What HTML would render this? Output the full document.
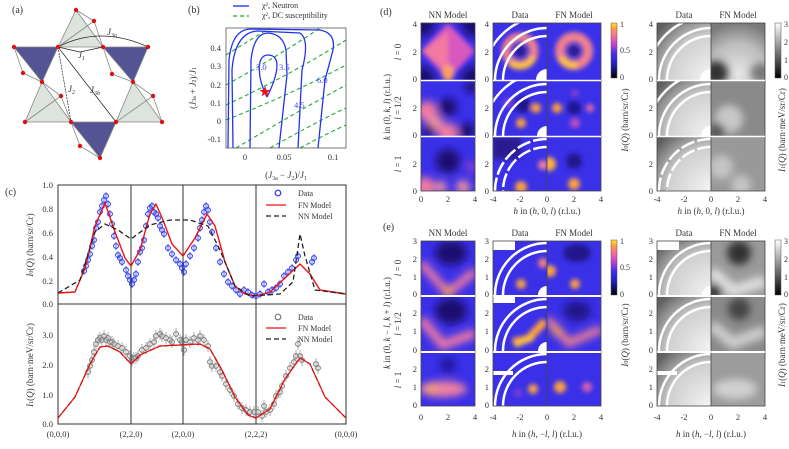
<!DOCTYPE html>
<html><head><meta charset="utf-8"><style>
body{margin:0;background:#fff;}
svg text{font-family:"Liberation Serif",serif;fill:#333;}
</style></head><body>
<svg id="s" width="789" height="444" viewBox="0 0 789 444" xmlns="http://www.w3.org/2000/svg">
<defs>
<filter id="b" x="-50%" y="-50%" width="200%" height="200%"><feGaussianBlur stdDeviation="4"/></filter>
<filter id="b2" x="-50%" y="-50%" width="200%" height="200%"><feGaussianBlur stdDeviation="2.5"/></filter>
<linearGradient id="cb" x1="0" y1="1" x2="0" y2="0">
<stop offset="0" stop-color="#000"/><stop offset="0.25" stop-color="#2020c0"/><stop offset="0.45" stop-color="#4a30f0"/><stop offset="0.6" stop-color="#c040d0"/><stop offset="0.75" stop-color="#f26aa0"/><stop offset="0.9" stop-color="#fca040"/><stop offset="1" stop-color="#ffe030"/></linearGradient>
<linearGradient id="cg" x1="0" y1="1" x2="0" y2="0"><stop offset="0" stop-color="#000"/><stop offset="1" stop-color="#fff"/></linearGradient>
<radialGradient id="gd" cx="1" cy="1" r="1.3"><stop offset="0" stop-color="#f4f4f4"/><stop offset="0.6" stop-color="#d0d0d0"/><stop offset="1" stop-color="#606060"/></radialGradient>
<radialGradient id="gf" cx="0.5" cy="0.9" r="0.9"><stop offset="0" stop-color="#e6e6e6"/><stop offset="0.6" stop-color="#bdbdbd"/><stop offset="1" stop-color="#7a7a7a"/></radialGradient>
</defs>

<!-- (a) -->
<text x="12" y="13" font-size="10">(a)</text>
<g stroke="#888" stroke-width="0.8">
<polygon points="14,47 58,47 42,82" fill="#545494"/>
<polygon points="103,47 148,47 133,82" fill="#545494"/>
<polygon points="71,122 116,122 100,158" fill="#545494"/>
<polygon points="76,10 58,47 103,47" fill="#dde3dd"/>
<polygon points="42,82 25,122 71,122" fill="#dde3dd"/>
<polygon points="133,82 116,122 162,122" fill="#dde3dd"/>
<line x1="76" y1="10" x2="94" y2="21"/><line x1="94" y1="21" x2="103" y2="47"/><line x1="58" y1="47" x2="94" y2="21"/>
<line x1="14" y1="47" x2="23" y2="73"/><line x1="23" y1="73" x2="42" y2="82"/>
<line x1="103" y1="47" x2="112" y2="74"/><line x1="112" y1="74" x2="133" y2="82"/>
<line x1="42" y1="82" x2="61" y2="96"/><line x1="61" y1="96" x2="71" y2="122"/><line x1="25" y1="122" x2="61" y2="96"/>
<line x1="133" y1="82" x2="153" y2="96"/><line x1="153" y1="96" x2="162" y2="122"/><line x1="116" y1="122" x2="153" y2="96"/>
<line x1="71" y1="122" x2="80" y2="146"/><line x1="80" y1="146" x2="100" y2="158"/>
</g>
<g stroke="#222" stroke-width="0.7" fill="none">
<path d="M58,47 Q100,25 148,47"/><line x1="58" y1="47" x2="80" y2="52"/><line x1="80" y1="52" x2="103" y2="47"/>
<line x1="58" y1="47" x2="71" y2="122" stroke-dasharray="2,1"/><line x1="58" y1="47" x2="116" y2="122"/>
</g>
<g fill="#dd1111"><circle cx="14" cy="47" r="2.2"/><circle cx="58" cy="47" r="2.2"/><circle cx="103" cy="47" r="2.2"/><circle cx="148" cy="47" r="2.2"/><circle cx="76" cy="10" r="2.2"/><circle cx="94" cy="21" r="2.2"/><circle cx="23" cy="73" r="2.2"/><circle cx="42" cy="82" r="2.2"/><circle cx="112" cy="74" r="2.2"/><circle cx="133" cy="82" r="2.2"/><circle cx="61" cy="96" r="2.2"/><circle cx="153" cy="96" r="2.2"/><circle cx="25" cy="122" r="2.2"/><circle cx="71" cy="122" r="2.2"/><circle cx="116" cy="122" r="2.2"/><circle cx="162" cy="122" r="2.2"/><circle cx="80" cy="146" r="2.2"/><circle cx="100" cy="158" r="2.2"/></g>
<g font-size="9" font-style="italic"><text x="107" y="35">J<tspan font-size="6" dy="2">3a</tspan></text><text x="78" y="58">J<tspan font-size="6" dy="2">1</tspan></text><text x="68" y="92">J<tspan font-size="6" dy="2">2</tspan></text><text x="90" y="93">J<tspan font-size="6" dy="2">3b</tspan></text></g>

<!-- (b) -->
<text x="188" y="13" font-size="10">(b)</text>
<line x1="233" y1="6" x2="249" y2="6" stroke="#2222ee" stroke-width="1.3"/><text x="262" y="8" font-size="8">χ², Neutron</text>
<line x1="233" y1="16" x2="249" y2="16" stroke="#22aa22" stroke-width="1.3" stroke-dasharray="4,3"/><text x="262" y="18" font-size="8">χ², DC susceptibility</text>
<svg x="226" y="28" width="120" height="120" viewBox="226 28 120 120">
<g stroke="#22aa33" stroke-width="1.1" fill="none" stroke-dasharray="4,3">
<path d="M226,55 Q250,40 270,28"/><path d="M226,85 Q280,55 320,28"/><path d="M226,105 Q290,75 346,40"/><path d="M226,120 Q290,95 346,65"/><path d="M236,148 Q300,110 346,85"/><path d="M270,148 Q320,120 346,108"/><path d="M300,148 Q330,132 346,125"/>
</g>
<g stroke="#2233ee" stroke-width="1.3" fill="none">
<path d="M267,97 C258,80 255,55 268,55 C282,55 278,75 267,97"/>
<path d="M250,148 L251,60 Q254,33 268,33 Q283,34 286,50 L287,75 L279,148"/>
<path d="M233,148 L232,70 Q235,32 258,31 L300,33 Q310,40 302,70 L298,148"/>
<path d="M228,148 L229,60 Q232,30 250,29 L320,30 Q336,33 333,50 L325,80 L318,148"/>
</g>
<text x="256" y="70" font-size="8.5" style="fill:#4444ee">3.0</text>
<text x="279" y="70" font-size="8.5" style="fill:#4444ee">3.5</text>
<text x="294" y="108" font-size="8.5" style="fill:#4444ee">4.5</text>
<text x="317" y="83" font-size="8.5" style="fill:#4444ee">6.0</text>
<polygon points="265,86 266.5,90 270.5,90 267.3,92.5 268.5,96.5 265,94 261.5,96.5 262.7,92.5 259.5,90 263.5,90" fill="#ee1111"/>
</svg>
<rect x="226" y="28" width="120" height="120" fill="none" stroke="#555" stroke-width="0.8"/>
<g font-size="8.5" text-anchor="end"><text x="221" y="51">0.4</text><text x="221" y="69">0.3</text><text x="221" y="88">0.2</text><text x="221" y="106">0.1</text><text x="221" y="124">0</text><text x="221" y="142">-0.1</text></g>
<g font-size="8.5" text-anchor="middle"><text x="245" y="160">0</text><text x="284" y="160">0.05</text><text x="333" y="160">0.1</text></g>
<text x="286" y="178" font-size="9" text-anchor="middle">(<tspan font-style="italic">J</tspan><tspan font-size="6" dy="2">3a</tspan><tspan dy="-2"> − </tspan><tspan font-style="italic">J</tspan><tspan font-size="6" dy="2">2</tspan><tspan dy="-2">)/</tspan><tspan font-style="italic">J</tspan><tspan font-size="6" dy="2">1</tspan></text>
<text transform="translate(196,88) rotate(-90)" font-size="9" text-anchor="middle">(<tspan font-style="italic">J</tspan><tspan font-size="6">3a</tspan> + <tspan font-style="italic">J</tspan><tspan font-size="6">2</tspan>)/<tspan font-style="italic">J</tspan><tspan font-size="6">1</tspan></text>

<!-- (c) -->
<text x="5" y="195" font-size="10">(c)</text>
<g stroke="#333" stroke-width="1"><rect x="58" y="185" width="288" height="239" fill="none"/><line x1="58" y1="304" x2="346" y2="304"/><line x1="131" y1="185" x2="131" y2="424"/><line x1="183" y1="185" x2="183" y2="424"/><line x1="256" y1="185" x2="256" y2="424"/></g>
<g font-size="8.5" text-anchor="end"><text x="53" y="188">1.0</text><text x="53" y="212">0.8</text><text x="53" y="236">0.6</text><text x="53" y="260">0.4</text><text x="53" y="284">0.2</text><text x="53" y="307">0.0</text>
<text x="53" y="338">3.0</text><text x="53" y="368">2.0</text><text x="53" y="398">1.0</text><text x="53" y="427">0.0</text></g>
<g font-size="8.5" text-anchor="middle"><text x="58" y="437">(0,0,0)</text><text x="131" y="437">(2,2,0)</text><text x="183" y="437">(2,0,0)</text><text x="256" y="437">(2,2,2)</text><text x="346" y="437">(0,0,0)</text></g>
<text transform="translate(33,245) rotate(-90)" font-size="9" text-anchor="middle"><tspan font-style="italic">I</tspan><tspan font-size="6">0</tspan>(<tspan font-style="italic">Q</tspan>) (barn/sr/Cr)</text>
<text transform="translate(33,365) rotate(-90)" font-size="9" text-anchor="middle"><tspan font-style="italic">I</tspan><tspan font-size="6">1</tspan>(<tspan font-style="italic">Q</tspan>) (barn·meV/sr/Cr)</text>
<g id="pts"></g>
<path d="M58,293 L75,292 L85,268 L95,226 L105,203 L115,232 L125,258 L131,266 L140,250 L150,214 L156,204 L163,220 L172,244 L183,256 L195,238 L207,214 L215,226 L225,262 L235,286 L245,294 L256,296 L270,292 L285,278 L300,264 L310,274 L320,290 L346,294" fill="none" stroke="#e11" stroke-width="1.4" stroke-linejoin="round"/>
<path d="M58,293 L80,280 L95,232 L105,224 L118,230 L131,239 L150,225 L170,220 L190,220 L208,226 L220,250 L235,286 L250,296 L280,294 L293,282 L300,234 L305,256 L315,290 L346,294" fill="none" stroke="#222" stroke-width="1.3" stroke-dasharray="5,3"/>
<path d="M58,418 L75,397 L90,364 L100,347 L108,346 L120,352 L131,364 L140,355 L160,346 L200,344 L210,349 L222,370 L235,397 L248,415 L256,418 L270,409 L285,379 L300,358 L310,364 L325,397 L346,418" fill="none" stroke="#222" stroke-width="1.3" stroke-dasharray="5,3"/>
<path d="M58,418 L75,397 L90,364 L100,347 L108,346 L120,352 L131,364 L140,355 L160,346 L200,344 L210,349 L222,370 L235,397 L248,415 L256,418 L270,409 L285,379 L300,358 L310,364 L325,397 L346,418" fill="none" stroke="#e11" stroke-width="1.2"/>
<g font-size="8"><circle cx="278" cy="193" r="2.8" fill="none" stroke="#2233ee" stroke-width="1.2"/><text x="298" y="196">Data</text>
<line x1="266" y1="205" x2="286" y2="205" stroke="#e11" stroke-width="1.3"/><text x="298" y="208">FN Model</text>
<line x1="266" y1="216" x2="286" y2="216" stroke="#222" stroke-width="1.3" stroke-dasharray="5,3"/><text x="298" y="219">NN Model</text>
<circle cx="278" cy="317" r="2.8" fill="none" stroke="#777" stroke-width="1.2"/><text x="298" y="320">Data</text>
<line x1="266" y1="328" x2="286" y2="328" stroke="#e11" stroke-width="1.3"/><text x="298" y="331">FN Model</text>
<line x1="266" y1="339" x2="286" y2="339" stroke="#222" stroke-width="1.3" stroke-dasharray="5,3"/><text x="298" y="342">NN Model</text></g>

<!-- (d) and (e) labels -->
<text x="380" y="15" font-size="10">(d)</text>
<text x="383" y="230" font-size="10">(e)</text>
<g font-size="9" text-anchor="middle">
<text x="448" y="18">NN Model</text><text x="520" y="18">Data</text><text x="574" y="18">FN Model</text><text x="684" y="18">Data</text><text x="738" y="18">FN Model</text>
<text x="448" y="236">NN Model</text><text x="520" y="236">Data</text><text x="574" y="236">FN Model</text><text x="684" y="236">Data</text><text x="738" y="236">FN Model</text>
<text x="547" y="214"><tspan font-style="italic">h</tspan> in (<tspan font-style="italic">h</tspan>, 0, <tspan font-style="italic">l</tspan>) (r.l.u.)</text>
<text x="711" y="214"><tspan font-style="italic">h</tspan> in (<tspan font-style="italic">h</tspan>, 0, <tspan font-style="italic">l</tspan>) (r.l.u.)</text>
<text x="547" y="437"><tspan font-style="italic">h</tspan> in (<tspan font-style="italic">h</tspan>, −<tspan font-style="italic">l</tspan>, <tspan font-style="italic">l</tspan>) (r.l.u.)</text>
<text x="711" y="437"><tspan font-style="italic">h</tspan> in (<tspan font-style="italic">h</tspan>, −<tspan font-style="italic">l</tspan>, <tspan font-style="italic">l</tspan>) (r.l.u.)</text>
</g>
<g font-size="9" text-anchor="middle">
<text transform="translate(390,107) rotate(-90)"><tspan font-style="italic">k</tspan> in (0, <tspan font-style="italic">k</tspan>, <tspan font-style="italic">l</tspan>) (r.l.u.)</text>
<text transform="translate(401,52) rotate(-90)"><tspan font-style="italic">l</tspan> = 0</text>
<text transform="translate(401,108) rotate(-90)"><tspan font-style="italic">l</tspan> = 1/2</text>
<text transform="translate(401,164) rotate(-90)"><tspan font-style="italic">l</tspan> = 1</text>
<text transform="translate(390,323) rotate(-90)"><tspan font-style="italic">k</tspan> in (0, <tspan font-style="italic">k</tspan> − <tspan font-style="italic">l</tspan>, <tspan font-style="italic">k</tspan> + <tspan font-style="italic">l</tspan>) (r.l.u.)</text>
<text transform="translate(401,268) rotate(-90)"><tspan font-style="italic">l</tspan> = 0</text>
<text transform="translate(401,324) rotate(-90)"><tspan font-style="italic">l</tspan> = 1/2</text>
<text transform="translate(401,380) rotate(-90)"><tspan font-style="italic">l</tspan> = 1</text>
<text transform="translate(628,120) rotate(-90)"><tspan font-style="italic">I</tspan><tspan font-size="6">0</tspan>(<tspan font-style="italic">Q</tspan>) (barn/sr/Cr)</text>
<text transform="translate(785,130) rotate(-90)"><tspan font-style="italic">I</tspan><tspan font-size="6">1</tspan>(<tspan font-style="italic">Q</tspan>) (barn·meV/sr/Cr)</text>
<text transform="translate(628,335) rotate(-90)"><tspan font-style="italic">I</tspan><tspan font-size="6">0</tspan>(<tspan font-style="italic">Q</tspan>) (barn/sr/Cr)</text>
<text transform="translate(785,345) rotate(-90)"><tspan font-style="italic">I</tspan><tspan font-size="6">1</tspan>(<tspan font-style="italic">Q</tspan>) (barn·meV/sr/Cr)</text>
</g>
<rect x="611" y="23" width="6" height="55" fill="url(#cb)" stroke="#555" stroke-width="0.5"/>
<rect x="611" y="240" width="6" height="55" fill="url(#cb)" stroke="#555" stroke-width="0.5"/>
<rect x="775" y="23" width="6" height="55" fill="url(#cg)" stroke="#555" stroke-width="0.5"/>
<rect x="775" y="240" width="6" height="55" fill="url(#cg)" stroke="#555" stroke-width="0.5"/>
<g font-size="8"><text x="620" y="27">1</text><text x="620" y="53">0.5</text><text x="620" y="80">0</text><text x="620" y="244">1</text><text x="620" y="270">0.5</text><text x="620" y="297">0</text>
<text x="784" y="27">3</text><text x="784" y="45">2</text><text x="784" y="63">1</text><text x="784" y="80">0</text><text x="784" y="244">3</text><text x="784" y="262">2</text><text x="784" y="280">1</text><text x="784" y="297">0</text></g>

<g id="heat">
<svg x="421" y="23" width="54" height="57"><rect width="54" height="57" fill="#3a30e8"/><g filter="url(#b)"><circle cx="0" cy="0" r="14" fill="#1a1070"/><circle cx="54" cy="0" r="14" fill="#1a1070"/><circle cx="0" cy="57" r="14" fill="#1a1070"/><circle cx="54" cy="57" r="14" fill="#1a1070"/></g><g filter="url(#b2)"><polygon points="27,0 54,28 27,57 0,28" fill="#d858c0"/><polygon points="27,8 27,50 2,28" fill="#f27aa0"/><ellipse cx="27" cy="50" rx="6" ry="8" fill="#fba060"/></g></svg>
<svg x="493" y="23" width="54" height="57"><rect width="54" height="57" fill="#3a30e8"/><g filter="url(#b2)"><circle cx="27" cy="28" r="14" fill="none" stroke="#f08090" stroke-width="9"/><path d="M18,40 A14,14 0 0 0 40,34" fill="none" stroke="#fcc040" stroke-width="7"/><circle cx="27" cy="28" r="6" fill="#2a1a90"/></g>
<g fill="none" stroke="#fff" stroke-width="2.5"><path d="M54,13 A44,44 0 0 0 10,57"/><path d="M54,5 A52,52 0 0 0 2,57"/><path d="M54,-7 A64,64 0 0 0 -10,57"/></g><circle cx="54" cy="57" r="11" fill="#fff"/></svg>
<svg x="547" y="23" width="54" height="57"><rect width="54" height="57" fill="#3a30e8"/><g filter="url(#b2)"><circle cx="27" cy="28" r="14" fill="none" stroke="#f08090" stroke-width="10"/><path d="M14,34 A14,14 0 0 0 30,42" fill="none" stroke="#fcc040" stroke-width="7"/><circle cx="27" cy="28" r="6" fill="#2a1a90"/></g></svg>
<svg x="421" y="81" width="54" height="55"><rect width="54" height="55" fill="#3a30e8"/><g filter="url(#b)"><circle cx="27" cy="26" r="9" fill="#1a1070"/><circle cx="6" cy="30" r="10" fill="#f27aa0"/><circle cx="27" cy="52" r="10" fill="#f27aa0"/><circle cx="14" cy="42" r="8" fill="#f090a0"/><circle cx="46" cy="50" r="8" fill="#1a1070"/><circle cx="8" cy="50" r="6" fill="#1a1070"/><circle cx="50" cy="6" r="6" fill="#1a1070"/></g></svg>
<svg x="493" y="81" width="54" height="55"><rect width="54" height="55" fill="#3a30e8"/><g filter="url(#b2)"><circle cx="43" cy="27" r="5" fill="#fca040"/><circle cx="28" cy="42" r="5" fill="#fca040"/><circle cx="15" cy="22" r="5" fill="#7a40e0"/><circle cx="30" cy="24" r="8" fill="#1e1490"/></g>
<g fill="none" stroke="#fff" stroke-width="2.5"><path d="M54,11 A44,44 0 0 0 10,55"/><path d="M54,3 A52,52 0 0 0 2,55"/><path d="M54,-9 A64,64 0 0 0 -10,55"/></g><circle cx="54" cy="55" r="10" fill="#fff"/></svg>
<svg x="547" y="81" width="54" height="55"><rect width="54" height="55" fill="#3a30e8"/><g filter="url(#b2)"><circle cx="10" cy="27" r="5" fill="#fca040"/><circle cx="43" cy="27" r="4" fill="#e06aa0"/><circle cx="28" cy="42" r="5" fill="#c050c0"/><circle cx="27" cy="27" r="7" fill="#1e1490"/><circle cx="28" cy="12" r="4" fill="#8040d0"/></g></svg>
<svg x="421" y="137" width="54" height="54"><rect width="54" height="54" fill="#3a30e8"/><g filter="url(#b)"><circle cx="27" cy="24" r="12" fill="#1a1070"/><circle cx="4" cy="50" r="10" fill="#f27aa0"/><circle cx="20" cy="50" r="6" fill="#f090a0"/><circle cx="42" cy="50" r="7" fill="#f090a0"/><circle cx="50" cy="30" r="6" fill="#8040d0"/></g></svg>
<svg x="493" y="137" width="54" height="54"><rect width="54" height="54" fill="#3a30e8"/><rect width="28" height="22" fill="#2a1c90" filter="url(#b2)"/><g filter="url(#b2)"><circle cx="28" cy="50" r="6" fill="#fca040"/><circle cx="50" cy="28" r="5" fill="#f080a0"/></g>
<g fill="none" stroke="#fff" stroke-width="2.5" stroke-dasharray="14,3"><path d="M54,10 A44,44 0 0 0 10,54"/><path d="M54,2 A52,52 0 0 0 2,54"/></g></svg>
<svg x="547" y="137" width="54" height="54"><rect width="54" height="54" fill="#3a30e8"/><g filter="url(#b2)"><circle cx="2" cy="27" r="7" fill="#fcb040"/><circle cx="27" cy="47" r="6" fill="#fca040"/><circle cx="27" cy="24" r="8" fill="#22168c"/></g></svg>

<svg x="421" y="241" width="54" height="54"><rect width="54" height="54" fill="#3a30e8"/><g filter="url(#b)"><ellipse cx="30" cy="12" rx="16" ry="12" fill="#1a1070"/><path d="M0,22 L27,52 L54,30" fill="none" stroke="#f27aa0" stroke-width="8"/><circle cx="27" cy="50" r="5" fill="#fca040"/></g></svg>
<svg x="493" y="241" width="54" height="54"><rect width="54" height="54" fill="#3a30e8"/><g filter="url(#b2)"><circle cx="28" cy="43" r="5" fill="#fca040"/><circle cx="50" cy="22" r="5" fill="#f08080"/></g>
<g fill="none" stroke="#fff" stroke-width="2.5"><path d="M54,10 A44,44 0 0 0 10,54"/><path d="M54,2 A52,52 0 0 0 2,54"/></g><rect x="0" y="0" width="22" height="9" fill="#fff"/><circle cx="54" cy="54" r="9" fill="#fff"/></svg>
<svg x="547" y="241" width="54" height="54"><rect width="54" height="54" fill="#3a30e8"/><g filter="url(#b2)"><circle cx="3" cy="30" r="6" fill="#fca040"/><circle cx="28" cy="43" r="5" fill="#fca040"/><ellipse cx="30" cy="12" rx="14" ry="9" fill="#22168c"/></g></svg>
<svg x="421" y="297" width="54" height="54"><rect width="54" height="54" fill="#3a30e8"/><g filter="url(#b)"><ellipse cx="30" cy="14" rx="16" ry="13" fill="#1a1070"/><path d="M0,22 L22,48 L54,36" fill="none" stroke="#f27aa0" stroke-width="9"/></g></svg>
<svg x="493" y="297" width="54" height="54"><rect width="54" height="54" fill="#3a30e8"/><g filter="url(#b2)"><path d="M20,45 L35,42 L52,24" fill="none" stroke="#fca040" stroke-width="8"/><path d="M22,48 L40,40" stroke="#fcc040" stroke-width="6"/></g>
<g fill="none" stroke="#fff" stroke-width="2.5"><path d="M54,10 A44,44 0 0 0 10,54"/><path d="M54,2 A52,52 0 0 0 2,54"/></g><rect x="0" y="0" width="22" height="6" fill="#fff"/><circle cx="54" cy="54" r="9" fill="#fff"/></svg>
<svg x="547" y="297" width="54" height="54"><rect width="54" height="54" fill="#3a30e8"/><g filter="url(#b)"><ellipse cx="30" cy="14" rx="14" ry="10" fill="#22168c"/><path d="M0,22 L22,46 L54,32" fill="none" stroke="#f08090" stroke-width="8"/><circle cx="10" cy="34" r="5" fill="#fca040"/></g></svg>
<svg x="421" y="353" width="54" height="53"><rect width="54" height="53" fill="#3a30e8"/><g filter="url(#b)"><ellipse cx="22" cy="36" rx="24" ry="8" fill="#f080a0"/><circle cx="10" cy="36" r="6" fill="#f8a070"/><circle cx="27" cy="12" r="8" fill="#2418a0"/></g></svg>
<svg x="493" y="353" width="54" height="53"><rect width="54" height="53" fill="#3a30e8"/><g filter="url(#b2)"><circle cx="40" cy="36" r="5" fill="#fca040"/><circle cx="25" cy="40" r="4" fill="#8040d0"/></g>
<g fill="none" stroke="#fff" stroke-width="2.5"><path d="M54,9 A44,44 0 0 0 10,53"/><path d="M54,1 A52,52 0 0 0 2,53"/></g><rect x="0" y="18" width="20" height="4" fill="#fff"/></svg>
<svg x="547" y="353" width="54" height="53"><rect width="54" height="53" fill="#3a30e8"/><g filter="url(#b2)"><circle cx="13" cy="34" r="6" fill="#fca040"/><circle cx="40" cy="34" r="5" fill="#d860b0"/></g></svg>

<svg x="657" y="23" width="54" height="57"><rect width="54" height="57" fill="url(#gd)"/><g fill="none" stroke="#fff" stroke-width="2.5"><path d="M54,13 A44,44 0 0 0 10,57"/><path d="M54,5 A52,52 0 0 0 2,57"/><path d="M54,-7 A64,64 0 0 0 -10,57"/></g><circle cx="54" cy="57" r="11" fill="#fff"/></svg>
<svg x="711" y="23" width="54" height="57"><rect width="54" height="57" fill="url(#gf)"/><circle cx="5" cy="50" r="12" fill="#333" filter="url(#b)"/><circle cx="50" cy="50" r="10" fill="#777" filter="url(#b)"/></svg>
<svg x="657" y="81" width="54" height="55"><rect width="54" height="55" fill="url(#gd)"/><g fill="none" stroke="#fff" stroke-width="2.5"><path d="M54,11 A44,44 0 0 0 10,55"/><path d="M54,3 A52,52 0 0 0 2,55"/><path d="M54,-9 A64,64 0 0 0 -10,55"/></g><circle cx="54" cy="55" r="10" fill="#fff"/></svg>
<svg x="711" y="81" width="54" height="55"><rect width="54" height="55" fill="#8a8a8a"/><g filter="url(#b)"><circle cx="18" cy="38" r="14" fill="#c8c8c8"/><circle cx="6" cy="50" r="8" fill="#555"/></g></svg>
<svg x="657" y="137" width="54" height="54"><rect width="54" height="54" fill="url(#gd)"/><g fill="none" stroke="#fff" stroke-width="2.5" stroke-dasharray="14,3"><path d="M54,10 A44,44 0 0 0 10,54"/><path d="M54,2 A52,52 0 0 0 2,54"/></g></svg>
<svg x="711" y="137" width="54" height="54"><rect width="54" height="54" fill="#999"/><g filter="url(#b)"><circle cx="10" cy="30" r="12" fill="#c4c4c4"/><circle cx="30" cy="48" r="10" fill="#c4c4c4"/></g></svg>
<svg x="657" y="241" width="54" height="54"><rect width="54" height="54" fill="url(#gd)"/><g fill="none" stroke="#fff" stroke-width="2.5"><path d="M54,10 A44,44 0 0 0 10,54"/><path d="M54,2 A52,52 0 0 0 2,54"/></g><rect width="22" height="9" fill="#fff"/><circle cx="54" cy="54" r="9" fill="#fff"/></svg>
<svg x="711" y="241" width="54" height="54"><rect width="54" height="54" fill="#9a9a9a"/><g filter="url(#b)"><circle cx="28" cy="12" r="12" fill="#333"/><path d="M0,30 L22,50 L54,40" stroke="#ddd" stroke-width="12" fill="none"/><circle cx="4" cy="50" r="7" fill="#222"/></g></svg>
<svg x="657" y="297" width="54" height="54"><rect width="54" height="54" fill="url(#gd)"/><g fill="none" stroke="#fff" stroke-width="2.5"><path d="M54,10 A44,44 0 0 0 10,54"/><path d="M54,2 A52,52 0 0 0 2,54"/></g></svg>
<svg x="711" y="297" width="54" height="54"><rect width="54" height="54" fill="#8a8a8a"/><g filter="url(#b)"><circle cx="28" cy="12" r="11" fill="#444"/><path d="M0,28 L22,46 L54,34" stroke="#ccc" stroke-width="12" fill="none"/></g></svg>
<svg x="657" y="353" width="54" height="53"><rect width="54" height="53" fill="url(#gd)"/><g fill="none" stroke="#fff" stroke-width="2.5"><path d="M54,9 A44,44 0 0 0 10,53"/><path d="M54,1 A52,52 0 0 0 2,53"/></g><rect y="18" width="20" height="4" fill="#fff"/></svg>
<svg x="711" y="353" width="54" height="53"><rect width="54" height="53" fill="#9c9c9c"/><ellipse cx="24" cy="36" rx="22" ry="10" fill="#d0d0d0" filter="url(#b)"/></svg>
</g>
<g fill="none" stroke="#444" stroke-width="0.8">
<rect x="421" y="23" width="54" height="168"/><rect x="493" y="23" width="108" height="168"/><rect x="657" y="23" width="108" height="168"/>
<rect x="421" y="241" width="54" height="165"/><rect x="493" y="241" width="108" height="165"/><rect x="657" y="241" width="108" height="165"/>
<line x1="547" y1="23" x2="547" y2="191"/><line x1="711" y1="23" x2="711" y2="191"/><line x1="547" y1="241" x2="547" y2="406"/><line x1="711" y1="241" x2="711" y2="406"/>
</g>
<g stroke="#fff" stroke-width="1.5"><line x1="421" y1="80.5" x2="475" y2="80.5"/><line x1="421" y1="136.5" x2="475" y2="136.5"/><line x1="493" y1="80.5" x2="601" y2="80.5"/><line x1="493" y1="136.5" x2="601" y2="136.5"/><line x1="657" y1="80.5" x2="765" y2="80.5"/><line x1="657" y1="136.5" x2="765" y2="136.5"/>
<line x1="421" y1="296" x2="475" y2="296"/><line x1="421" y1="352" x2="475" y2="352"/><line x1="493" y1="296" x2="601" y2="296"/><line x1="493" y1="352" x2="601" y2="352"/><line x1="657" y1="296" x2="765" y2="296"/><line x1="657" y1="352" x2="765" y2="352"/></g>
<g font-size="8.5" text-anchor="end">
<text x="417" y="27">4</text><text x="417" y="55">2</text><text x="417" y="82">0</text><text x="417" y="111">2</text><text x="417" y="138">0</text><text x="417" y="167">2</text><text x="417" y="194">0</text>
<text x="489" y="27">4</text><text x="489" y="55">2</text><text x="489" y="82">0</text><text x="489" y="111">2</text><text x="489" y="138">0</text><text x="489" y="167">2</text><text x="489" y="194">0</text>
<text x="653" y="27">4</text><text x="653" y="55">2</text><text x="653" y="82">0</text><text x="653" y="111">2</text><text x="653" y="138">0</text><text x="653" y="167">2</text><text x="653" y="194">0</text>
<text x="417" y="244">3</text><text x="417" y="262">2</text><text x="417" y="280">1</text><text x="417" y="297">0</text><text x="417" y="316">2</text><text x="417" y="334">1</text><text x="417" y="353">0</text><text x="417" y="372">2</text><text x="417" y="390">1</text><text x="417" y="408">0</text>
<text x="489" y="244">3</text><text x="489" y="262">2</text><text x="489" y="280">1</text><text x="489" y="297">0</text><text x="489" y="316">2</text><text x="489" y="334">1</text><text x="489" y="353">0</text><text x="489" y="372">2</text><text x="489" y="390">1</text><text x="489" y="408">0</text>
<text x="653" y="244">3</text><text x="653" y="262">2</text><text x="653" y="280">1</text><text x="653" y="297">0</text><text x="653" y="316">2</text><text x="653" y="334">1</text><text x="653" y="353">0</text><text x="653" y="372">2</text><text x="653" y="390">1</text><text x="653" y="408">0</text>
</g>
<g font-size="8.5" text-anchor="middle">
<text x="421" y="202">0</text><text x="448" y="202">2</text><text x="475" y="202">4</text><text x="493" y="202">-4</text><text x="520" y="202">-2</text><text x="547" y="202">0</text><text x="574" y="202">2</text><text x="601" y="202">4</text><text x="657" y="202">-4</text><text x="684" y="202">-2</text><text x="711" y="202">0</text><text x="738" y="202">2</text><text x="765" y="202">4</text>
<text x="421" y="420">0</text><text x="448" y="420">2</text><text x="475" y="420">4</text><text x="493" y="420">-4</text><text x="520" y="420">-2</text><text x="547" y="420">0</text><text x="574" y="420">2</text><text x="601" y="420">4</text><text x="657" y="420">-4</text><text x="684" y="420">-2</text><text x="711" y="420">0</text><text x="738" y="420">2</text><text x="765" y="420">4</text>
</g>
</svg>
<script>
var t=[84,271,86,266,88,260,90,254,92,246,94,240,96,228,98,222,100,212,102,206,104,200,106,196,108,204,110,214,112,224,114,236,116,246,118,255,120,258,122,262,126,270,128,276,130,280,132,284,134,280,136,274,138,262,140,252,142,248,144,240,146,226,148,214,150,208,152,206,154,212,156,214,158,218,160,226,162,230,164,234,168,248,172,254,176,260,180,264,182,268,184,272,186,264,190,256,194,248,198,238,200,228,202,220,204,212,206,206,208,210,210,222,212,232,216,248,220,262,224,274,228,282,232,286,236,290,240,294,244,290,248,292,252,295,256,296,260,294,264,284,268,292,272,290,276,288,280,284,284,276,288,272,292,268,296,260,298,256,312,262,314,258];
var b=[88,372,90,366,92,360,94,352,96,344,98,340,100,338,102,340,104,336,106,340,108,338,110,342,112,342,114,344,118,346,122,348,126,352,130,356,132,360,134,358,136,358,138,356,142,350,146,348,150,344,154,342,156,336,160,334,162,336,166,338,170,340,172,342,176,334,180,340,182,342,184,350,186,340,190,342,194,338,198,340,200,336,204,340,208,346,210,362,212,366,216,366,220,372,222,376,226,384,230,390,234,396,238,404,242,408,246,410,250,412,254,412,258,412,262,416,264,406,266,412,270,410,274,404,276,396,280,392,282,386,286,376,290,368,294,362,296,356,298,344,300,356,302,360,316,364,318,368];
var g=document.getElementById('pts'),h='';
for(var i=0;i<t.length;i+=2)h+='<line x1="'+t[i]+'" y1="'+(t[i+1]-4)+'" x2="'+t[i]+'" y2="'+(t[i+1]+4)+'" stroke="#2233ee" stroke-width="0.7"/><circle cx="'+t[i]+'" cy="'+t[i+1]+'" r="2.4" fill="none" stroke="#2233ee" stroke-width="1"/>';
for(var i=0;i<b.length;i+=2)h+='<line x1="'+b[i]+'" y1="'+(b[i+1]-6)+'" x2="'+b[i]+'" y2="'+(b[i+1]+6)+'" stroke="#888" stroke-width="0.7"/><circle cx="'+b[i]+'" cy="'+b[i+1]+'" r="2.4" fill="none" stroke="#777" stroke-width="1"/>';
g.innerHTML=h;
</script>
</body></html>
